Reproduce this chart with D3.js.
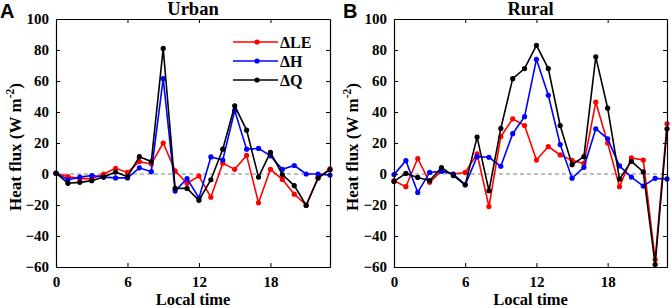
<!DOCTYPE html>
<html><head><meta charset="utf-8">
<script src="https://cdn.jsdelivr.net/npm/d3@7"></script>
<style>body{margin:0;background:#fff}svg{display:block}</style>
</head><body>
<svg id="c" width="671" height="308"></svg>
<script>
const hours = d3.range(0, 24);
const xTicks = [0, 6, 12, 18];
const yTicks = [-60, -40, -20, 0, 20, 40, 60, 80, 100];
const seriesNames = ["\u0394LE", "\u0394H", "\u0394Q"];
const seriesColors = ["#ff0000", "#0000ff", "#000000"];

const urbanLE = [0.5, -1.7, -3, -3, 0, 3.7, 1, 8, 6.5, 20, 2, -6, -1.3, -15, 7, 3, 12, -18.6, 3, -3.5, -13, -20, -2.4, 3.3];
const urbanH  = [0.5, -3.7, -2, -1, -2, -2.5, -2.5, 4, 1.5, 61.5, -11, -3, -15.5, 11, 9, 41, 16, 16.5, 11.7, 3, 5.5, 0, 0, -0.7];
const urbanQ  = [0.6, -6, -5.4, -4.3, -2, 1.3, -1.7, 11.2, 8, 81, -9.3, -9.3, -17, -3.7, 16, 44, 28.3, -2, 14, -0.4, -7.5, -20.3, -2.6, 2.8];

const ruralLE = [-4.3, -8.2, 10, -5.4, 2, 0, 1, 13, -21, 24.2, 35.6, 31.3, 9, 17.7, 12.3, 8.8, 6.8, 46.4, 20, -8.2, 10.4, 9, -55.3, 32.4];
const ruralH  = [-0.4, 8.6, -11.9, 1, 1.7, 0, -7, 11.2, 10.8, 5, 26, 37, 74, 50.8, 19, -2.7, 4.3, 29.2, 22.7, 5.2, -2, -7.8, -2.8, -3.2];
const ruralQ  = [-4.8, 0.4, -2.2, -4.3, 4.1, -1, -7, 23.8, -10.8, 29.4, 61.5, 68, 83, 68, 31.3, 6, 11.2, 75.6, 42.5, -3.3, 8.2, 1.4, -58.4, 29.2];

const svg = d3.select("#c");
const serif = "'Liberation Serif','Times New Roman',serif";

function panel(opts) {
  const {x0, x1, y0, y1, title, letter, letterX, ylabX, data, legend} = opts;
  const x = d3.scaleLinear().domain([0, 23]).range([x0, x1]);
  const y = d3.scaleLinear().domain([-60, 100]).range([y1, y0]);
  const g = svg.append("g");

  g.append("line").attr("x1", x0).attr("x2", x1).attr("y1", y(0)).attr("y2", y(0))
    .attr("stroke", "#808080").attr("stroke-width", 1).attr("stroke-dasharray", "4,3");

  data.forEach((vals, i) => {
    const line = d3.line().x((d, j) => x(hours[j])).y(d => y(d));
    g.append("path").datum(vals).attr("d", line).attr("fill", "none")
      .attr("stroke", seriesColors[i]).attr("stroke-width", 1.6).attr("stroke-linejoin", "miter");
    g.selectAll(null).data(vals).enter().append("circle")
      .attr("cx", (d, j) => x(hours[j])).attr("cy", d => y(d)).attr("r", 2.6)
      .attr("fill", seriesColors[i]);
  });

  const tk = 4;
  const axB = g.append("g").attr("transform", `translate(0,${y1})`)
    .call(d3.axisBottom(x).tickValues(xTicks).tickSizeInner(-tk).tickSizeOuter(0).tickPadding(9));
  const axT = g.append("g").attr("transform", `translate(0,${y0})`)
    .call(d3.axisTop(x).tickValues(xTicks).tickSizeInner(-tk).tickSizeOuter(0).tickFormat(""));
  const axL = g.append("g").attr("transform", `translate(${x0},0)`)
    .call(d3.axisLeft(y).tickValues(yTicks).tickSizeInner(-tk).tickSizeOuter(0).tickPadding(7));
  const axR = g.append("g").attr("transform", `translate(${x1},0)`)
    .call(d3.axisRight(y).tickValues(yTicks).tickSizeInner(-tk).tickSizeOuter(0).tickFormat(""));
  [axB, axT, axL, axR].forEach(a => {
    a.selectAll("path.domain").attr("stroke", "#000").attr("stroke-width", 1.2);
    a.selectAll("line").attr("stroke", "#000").attr("stroke-width", 1);
    a.selectAll("text").attr("font-family", serif).attr("font-weight", "bold")
      .attr("font-size", 15).attr("fill", "#000");
  });

  g.append("text").attr("x", (x0 + x1) / 2).attr("y", 15).attr("text-anchor", "middle")
    .attr("font-family", serif).attr("font-weight", "bold").attr("font-size", 18.5).text(title);
  g.append("text").attr("x", (x0 + x1) / 2).attr("y", 305).attr("text-anchor", "middle")
    .attr("font-family", serif).attr("font-weight", "bold").attr("font-size", 16.5).text("Local time");
  const yl = g.append("text").attr("transform", `translate(${ylabX},147) rotate(-90)`)
    .attr("text-anchor", "middle").attr("font-family", serif).attr("font-weight", "bold").attr("font-size", 17);
  yl.append("tspan").text("Heat flux (W m");
  yl.append("tspan").attr("dy", -7).attr("font-size", 11.5).text("-2");
  yl.append("tspan").attr("dy", 7).text(")");
  g.append("text").attr("x", letterX).attr("y", 18).attr("font-family", "'Liberation Sans',Arial,sans-serif")
    .attr("font-weight", "bold").attr("font-size", 20).text(letter);

  if (legend) {
    seriesNames.forEach((nm, i) => {
      const ly = 42 + i * 19;
      g.append("line").attr("x1", 233).attr("x2", 278).attr("y1", ly).attr("y2", ly)
        .attr("stroke", seriesColors[i]).attr("stroke-width", 1.6);
      g.append("circle").attr("cx", 257).attr("cy", ly).attr("r", 2.6).attr("fill", seriesColors[i]);
      g.append("text").attr("x", 280).attr("y", ly + 5.5).attr("font-family", serif)
        .attr("font-weight", "bold").attr("font-size", 16).text(nm);
    });
  }
}

panel({x0: 56, x1: 330, y0: 19, y1: 267, title: "Urban", letter: "A", letterX: 0, ylabX: 21,
  data: [urbanLE, urbanH, urbanQ], legend: true});
panel({x0: 394, x1: 667, y0: 19, y1: 267, title: "Rural", letter: "B", letterX: 343, ylabX: 358,
  data: [ruralLE, ruralH, ruralQ], legend: false});
</script>
</body></html>
